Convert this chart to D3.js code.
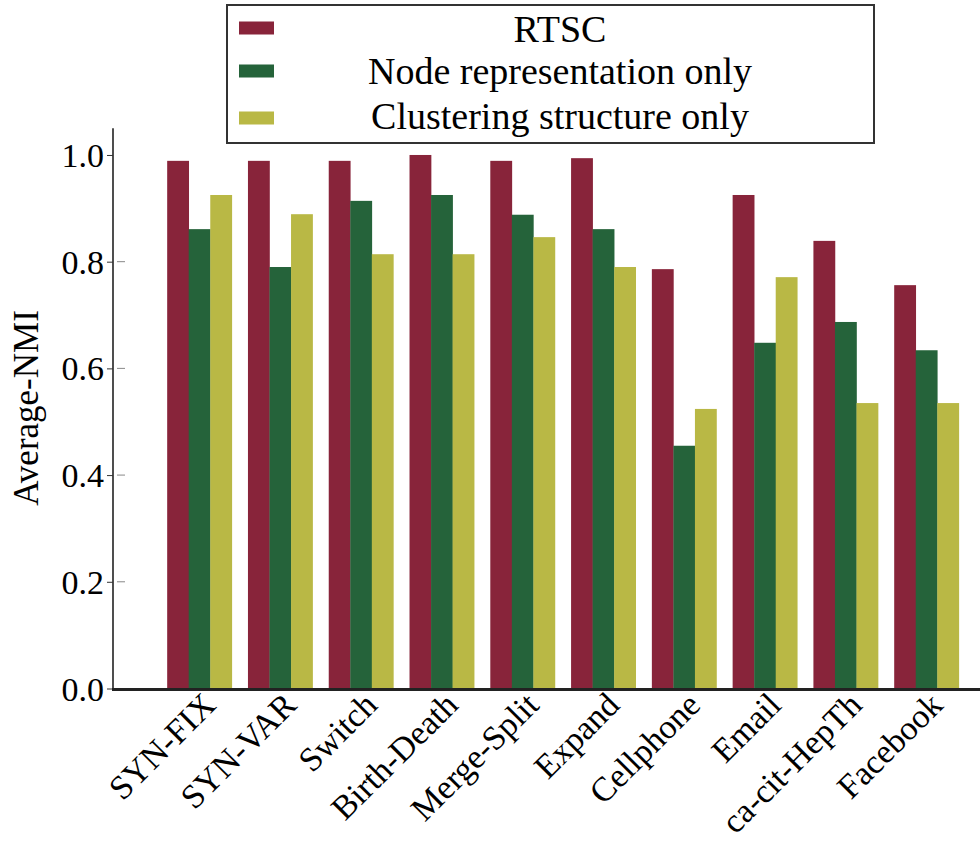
<!DOCTYPE html>
<html>
<head>
<meta charset="utf-8">
<script src="https://cdn.jsdelivr.net/npm/d3@7/dist/d3.min.js"></script>
<style>
  html, body { margin: 0; padding: 0; background: #fff; }
  svg { display: block; }
  text { font-family: "Liberation Serif", "Times New Roman", serif; fill: #000; }
</style>
</head>
<body>
<svg id="chart" width="980" height="841"></svg>
<script>
// Datasets on the x axis
const categories = ["SYN-FIX", "SYN-VAR", "Switch", "Birth-Death", "Merge-Split",
                    "Expand", "Cellphone", "Email", "ca-cit-HepTh", "Facebook"];

// Average NMI per method
const rtsc        = [0.989, 0.989, 0.989, 1.000, 0.989, 0.994, 0.786, 0.925, 0.839, 0.756];
const nodeOnly    = [0.861, 0.790, 0.914, 0.925, 0.888, 0.861, 0.455, 0.648, 0.687, 0.634];
const clusterOnly = [0.925, 0.889, 0.814, 0.814, 0.846, 0.790, 0.524, 0.771, 0.535, 0.535];

const seriesNames  = ["RTSC", "Node representation only", "Clustering structure only"];
const seriesColors = ["#88243A", "#25633A", "#B9B845"];
const yTicks = [0.0, 0.2, 0.4, 0.6, 0.8, 1.0];

const seriesValues = [rtsc, nodeOnly, clusterOnly];

const svg = d3.select("#chart");

const x = d3.scaleBand()
  .domain(categories)
  .range([159.1, 966.9])
  .paddingInner(0.2)
  .paddingOuter(0.1);

const xSub = d3.scaleBand()
  .domain(seriesNames)
  .range([0, x.bandwidth()]);

const y = d3.scaleLinear()
  .domain([0, 1.05])
  .range([688.5, 128.3]);

const axisX = 113;

// Bars
const groups = svg.append("g").selectAll("g")
  .data(categories)
  .join("g")
  .attr("transform", d => `translate(${x(d)},0)`);

groups.selectAll("rect")
  .data((d, i) => seriesNames.map((s, k) => ({ s, k, v: seriesValues[k][i] })))
  .join("rect")
  .attr("x", d => xSub(d.s))
  .attr("width", xSub.bandwidth() + 0.3)
  .attr("y", d => y(d.v))
  .attr("height", d => y(0) - y(d.v))
  .attr("fill", d => seriesColors[d.k]);

// Y axis
const yAxis = svg.append("g")
  .attr("transform", `translate(${axisX},0)`)
  .call(d3.axisLeft(y).tickValues(yTicks).tickFormat(d3.format(".1f")).tickSize(6).tickPadding(3));
yAxis.select(".domain").attr("stroke", "#222").attr("stroke-width", 1.6)
  .attr("d", `M0,${y(1.05)}V${y(0)}`);
yAxis.selectAll(".tick line").attr("stroke", "#333").attr("stroke-width", 1);
yAxis.selectAll(".tick text")
  .style("font-family", '"Liberation Serif", "Times New Roman", serif')
  .style("font-size", "34px")
  .attr("dy", "0.34em");

// faint inner tick marks
svg.append("g").selectAll("line")
  .data(yTicks.filter(t => t > 0 && t < 1))
  .join("line")
  .attr("x1", axisX + 4).attr("x2", axisX + 12)
  .attr("y1", d => y(d)).attr("y2", d => y(d))
  .attr("stroke", "#888").attr("stroke-width", 1);

// X axis baseline
svg.append("line")
  .attr("x1", axisX - 1).attr("x2", 980)
  .attr("y1", y(0) + 1).attr("y2", y(0) + 1)
  .attr("stroke", "#222").attr("stroke-width", 3);

// X tick labels, rotated
svg.append("g").selectAll("text")
  .data(categories)
  .join("text")
  .attr("text-anchor", "end")
  .attr("transform", d => `translate(${x(d) + x.bandwidth() / 2 + 18},707) rotate(-45)`)
  .style("font-size", "34px")
  .text(d => d);

// Y axis title
svg.append("text")
  .attr("text-anchor", "middle")
  .attr("transform", "translate(38,408) rotate(-90)")
  .style("font-size", "35px")
  .text("Average-NMI");

// Legend
const legend = svg.append("g");
legend.append("rect")
  .attr("x", 227).attr("y", 5)
  .attr("width", 647).attr("height", 138)
  .attr("fill", "#fff").attr("stroke", "#333").attr("stroke-width", 2);

const rowPatchY = [28, 71, 118];
const rowTextY = [42, 84, 129];
legend.selectAll("rect.patch")
  .data(seriesNames)
  .join("rect")
  .attr("class", "patch")
  .attr("x", 239).attr("width", 35)
  .attr("y", (d, i) => rowPatchY[i] - 6.5).attr("height", 13)
  .attr("fill", (d, i) => seriesColors[i]);
legend.selectAll("text")
  .data(seriesNames)
  .join("text")
  .attr("x", 560)
  .attr("y", (d, i) => rowTextY[i])
  .attr("text-anchor", "middle")
  .style("font-size", "38px")
  .text(d => d);
</script>
</body>
</html>
